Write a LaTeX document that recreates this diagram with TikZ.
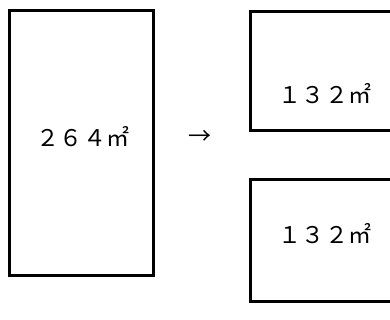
\documentclass[tikz,border=0pt]{standalone}
\usepackage{fontspec}
\newfontfamily\jpfont{Noto Sans CJK JP}

\begin{document}
\begin{tikzpicture}[x=1pt,y=-1pt]
\tikzset{lot/.style={line width=3pt},
  area/.style={font=\jpfont\fontsize{23}{26}\selectfont, inner sep=0pt}}
\useasboundingbox (0,0) rectangle (390,320);
\clip (0,0) rectangle (390,320);
% the whole plot and the two halves
\draw [lot] (9.5,10.7) rectangle (153.3,275);
\draw [lot] (250,12) rectangle (400,131);
\draw [lot] (250,180) rectangle (400,301);
\node [area] (whole) at (83,137) {２\kern0.5pt６\kern0.5pt４\kern0.5pt㎡};
\node [area] (arrow) at (200,137) {→};
\node [area] (upper) at (325,94) {１\kern0.5pt３\kern0.5pt２\kern0.5pt㎡};
\node [area] (lower) at (325,234) {１\kern0.5pt３\kern0.5pt２\kern0.5pt㎡};
\end{tikzpicture}
\end{document}
